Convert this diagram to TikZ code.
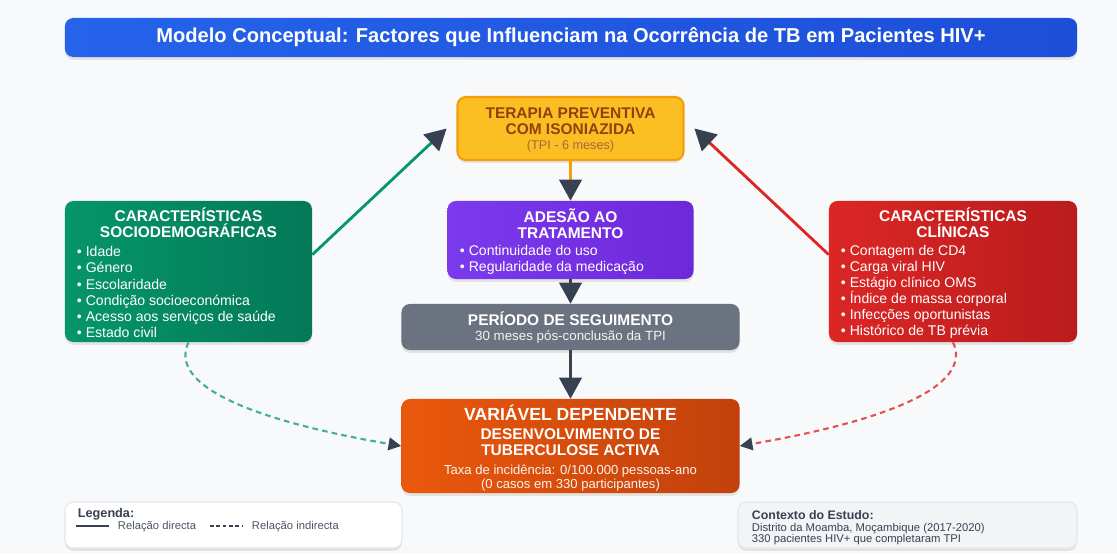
\documentclass[tikz,border=0pt]{standalone}
\usepackage{fontspec}
\setmainfont{Liberation Sans}
\usetikzlibrary{arrows.meta,shadows}

\definecolor{fundo}{HTML}{F8F9FA}
\definecolor{azulA}{HTML}{2563EB}
\definecolor{azulB}{HTML}{1D4ED8}
\definecolor{verdeA}{HTML}{059669}
\definecolor{verdeB}{HTML}{047857}
\definecolor{vermA}{HTML}{DC2626}
\definecolor{vermB}{HTML}{B91C1C}
\definecolor{roxoA}{HTML}{7C3AED}
\definecolor{roxoB}{HTML}{6D28D9}
\definecolor{laranjaA}{HTML}{EA580C}
\definecolor{laranjaB}{HTML}{C2410C}
\definecolor{amarelo}{HTML}{FBBF24}
\definecolor{ambar}{HTML}{F59E0B}
\definecolor{castanho}{HTML}{92400E}
\definecolor{cinza}{HTML}{6B7280}
\definecolor{escuro}{HTML}{374151}
\definecolor{texto}{HTML}{4B5563}
\definecolor{borda}{HTML}{E5E7EB}
\definecolor{claro}{HTML}{F3F4F6}

\tikzset{
  caixa/.style={rounded corners=6pt, inner sep=0pt,
    drop shadow={shadow xshift=0pt, shadow yshift=-2pt, opacity=.18}},
  cabeca/.style={text=white, font=\bfseries\fontsize{11}{11.4}\selectfont, align=center},
  lista/.style={text=white, font=\fontsize{10}{11.4}\selectfont, align=left, anchor=west},
  nota/.style={text=texto, font=\fontsize{8}{9}\selectfont, anchor=west},
  seta/.style={line width=2pt, -{Triangle[length=15pt,width=16pt,color=escuro]}},
  tracejada/.style={line width=1.5pt, dash pattern=on 4pt off 3pt,
    -{Triangle[length=9pt,width=9pt,color=escuro]}},
}

\begin{document}
\begin{tikzpicture}[x=0.025cm, y=-0.025cm]
	\fill[fundo] (0,0) rectangle (1117,553);
	\useasboundingbox (0,0) rectangle (1117,553);

	% titulo
	\node[caixa, left color=azulA, right color=azulB, minimum width=25.3cm, minimum height=0.975cm,
		text=white, font=\bfseries\fontsize{14.3}{15}\selectfont] (titulo) at (571,37.5)
		{Modelo Conceptual: Factores que Influenciam na Ocorrência de TB em Pacientes HIV+};

	% terapia preventiva
	\node[caixa, fill=amarelo, draw=ambar, line width=1.5pt, minimum width=5.65cm, minimum height=1.575cm] (terapia) at (570.5,128.5) {};
	\node[cabeca, text=castanho] (terapiaT) at (570.5,121.5) {TERAPIA PREVENTIVA\\COM ISONIAZIDA};
	\node[text=castanho!80, font=\fontsize{9}{10}\selectfont] (terapiaS) at (570.5,146) {(TPI - 6 meses)};

	% adesao
	\node[caixa, left color=roxoA, right color=roxoB, minimum width=6.15cm, minimum height=1.95cm] (adesao) at (570.5,240) {};
	\node[cabeca] (adesaoT) at (570.5,224) {ADESÃO AO\\TRATAMENTO};
	\node[lista] (adesaoL) at (455,260) {\textbullet{} Continuidade do uso\\\textbullet{} Regularidade da medicação};

	% caracteristicas sociodemograficas
	\node[caixa, left color=verdeA, right color=verdeB, minimum width=6.175cm, minimum height=3.525cm] (socio) at (188.5,271.5) {};
	\node[cabeca] (socioT) at (188.5,223) {CARACTERÍSTICAS\\SOCIODEMOGRÁFICAS};
	\node[lista] (socioL) at (72,292) {\textbullet{} Idade\\\textbullet{} Género\\\textbullet{} Escolaridade\\
		\textbullet{} Condição socioeconómica\\\textbullet{} Acesso aos serviços de saúde\\\textbullet{} Estado civil};

	% caracteristicas clinicas
	\node[caixa, left color=vermA, right color=vermB, minimum width=6.2cm, minimum height=3.525cm] (clinica) at (953,271.5) {};
	\node[cabeca] (clinicaT) at (953,223) {CARACTERÍSTICAS\\CLÍNICAS};
	\node[lista] (clinicaL) at (836,292) {\textbullet{} Contagem de CD4\\\textbullet{} Carga viral HIV\\\textbullet{} Estágio clínico OMS\\
		\textbullet{} Índice de massa corporal\\\textbullet{} Infecções oportunistas\\\textbullet{} Histórico de TB prévia};

	% periodo de seguimento
	\node[caixa, fill=cinza, minimum width=8.45cm, minimum height=1.15cm] (periodo) at (570.5,327) {};
	\node[cabeca] (periodoT) at (570.5,319) {PERÍODO DE SEGUIMENTO};
	\node[text=white!92!cinza, font=\fontsize{9.5}{10}\selectfont] (periodoS) at (570.5,337) {30 meses pós-conclusão da TPI};

	% variavel dependente
	\node[caixa, left color=laranjaA, right color=laranjaB, minimum width=8.45cm, minimum height=2.35cm] (variavel) at (570.5,446) {};
	\node[cabeca, font=\bfseries\fontsize{12.5}{13}\selectfont] (variavelT) at (570.5,413) {VARIÁVEL DEPENDENTE};
	\node[cabeca] (variavelD) at (570.5,442) {DESENVOLVIMENTO DE\\TUBERCULOSE ACTIVA};
	\node[text=white!92!laranjaA, font=\fontsize{9.3}{9.4}\selectfont, align=center] (variavelS) at (570.5,478)
		{Taxa de incidência: 0/100.000 pessoas-ano\\(0 casos em 330 participantes)};

	% ligacoes directas
	\draw[seta, verdeA] ([yshift=12pt]socio.east) -- ([xshift=-7pt]terapia.west);
	\draw[seta, vermA] ([yshift=12pt]clinica.west) -- ([xshift=7pt]terapia.east);
	\draw[seta, ambar] (terapia) -- (adesao);
	\draw[seta, escuro] (adesao) -- (periodo);
	\draw[seta, escuro] (periodo) -- (variavel);

	% ligacoes indirectas
	\draw[tracejada, verdeA!75] (socio.south) .. controls (168,385) and (250,420) .. (variavel.west);
	\draw[tracejada, vermA!80] (clinica.south) .. controls (973,385) and (891,420) .. (variavel.east);

	% legenda
	\node[caixa, fill=white, draw=borda, line width=0.8pt, minimum width=8.425cm, minimum height=1.15cm] (legenda) at (233.5,525) {};
	\node[anchor=west, text=escuro, font=\bfseries\fontsize{9}{10}\selectfont] (legendaT) at (73,514) {Legenda:};
	\coordinate (d1) at (76,526);
	\coordinate (d2) at (109,526);
	\draw[escuro, line width=1.5pt] (d1) -- (d2);
	\node[nota] (directa) at (113,527) {Relação directa};
	\coordinate (i1) at (210,526);
	\coordinate (i2) at (242,526);
	\draw[escuro, line width=1.2pt, dash pattern=on 2.5pt off 2pt] (i1) -- (i2);
	\node[nota] (indirecta) at (247,527) {Relação indirecta};

	% contexto
	\node[caixa, fill=claro, draw=borda, line width=0.8pt, minimum width=8.475cm, minimum height=1.15cm] (contexto) at (907.5,525) {};
	\node[anchor=west, text=escuro, font=\bfseries\fontsize{8.8}{10}\selectfont] (contextoT) at (747,515) {Contexto do Estudo:};
	\node[nota, text=escuro] (contextoA) at (747,528.5) {Distrito da Moamba, Moçambique (2017-2020)};
	\node[nota, text=escuro] (contextoB) at (747,540) {330 pacientes HIV+ que completaram TPI};
\end{tikzpicture}
\end{document}
